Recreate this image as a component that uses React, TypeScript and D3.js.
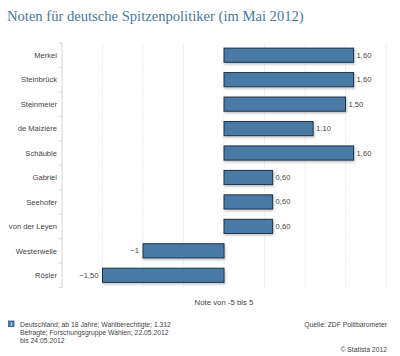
import React from "react";
import * as d3 from "d3";

const categories = ["Merkel", "Steinbrück", "Steinmeier", "de Maizière", "Schäuble", "Gabriel", "Seehofer", "von der Leyen", "Westerwelle", "Rösler"];
const values = [1.6, 1.6, 1.5, 1.1, 1.6, 0.6, 0.6, 0.6, -1, -1.5];
const valueLabels = ["1,60", "1,60", "1,50", "1,10", "1,60", "0,60", "0,60", "0,60", "−1", "−1,50"];
const gridTicks = [-2, -1.5, -1, -0.5, 0, 0.5, 1, 1.5, 2];
const title = "Noten für deutsche Spitzenpolitiker (im Mai 2012)";
const axisTitle = "Note von -5 bis 5";
const noteLines = ["Deutschland; ab 18 Jahre; Wahlberechtigte; 1.312", "Befragte; Forschungsgruppe Wahlen; 22.05.2012", "bis 24.05.2012"];
const source = "Quelle: ZDF Politbarometer";
const copyright = "© Statista 2012";

export default function App() {
  const W = 400, H = 356;
  const left = 62, right = 386, top = 43, bottom = 287.5;
  const x = d3.scaleLinear().domain([-2, 2]).range([left, right]);
  const y = d3.scaleBand<string>().domain(categories).range([top, bottom]).paddingInner(0.42).paddingOuter(0.21);
  const font = "Arial, 'Liberation Sans', sans-serif";
  const bw = y.bandwidth();
  const step = y.step();
  return (
    <svg width={W} height={H} style={{ position: "absolute", left: 0, top: 0, background: "#fff" }} fontFamily={font}>
      <defs>
        <filter id="sh" x="-10%" y="-30%" width="130%" height="180%">
          <feDropShadow dx="1" dy="1.5" stdDeviation="1" floodColor="#000" floodOpacity="0.25" />
        </filter>
      </defs>
      <text x={7} y={21} fontFamily="'Liberation Serif', 'Times New Roman', serif" fontSize={14.6} fill="#4a78a4">{title}</text>
      {gridTicks.slice(1).map((t) => (
        <line key={t} x1={x(t)} x2={x(t)} y1={top} y2={bottom} stroke="#eaeaea" strokeWidth={0.8} strokeDasharray="2,1" />
      ))}
      <line x1={left} x2={left} y1={top} y2={bottom} stroke="#d6d6d6" strokeWidth={1} />
      {d3.range(categories.length + 1).map((i) => (
        <line key={i} x1={left - 3} x2={left} y1={top + i * step} y2={top + i * step} stroke="#d6d6d6" strokeWidth={1} />
      ))}
      {categories.map((c, i) => {
        const v = values[i];
        const x0 = x(Math.min(0, v));
        const x1 = x(Math.max(0, v));
        const yc = (y(c) as number) + bw / 2;
        return (
          <g key={c}>
            <text x={left - 5} y={yc + 2.8} textAnchor="end" fontSize={7.6} fill="#444">{c}</text>
            <rect x={x0} y={y(c)} width={x1 - x0} height={bw} fill="#4a79a5" stroke="#1f3347" strokeWidth={1} filter="url(#sh)" />
            <text x={v >= 0 ? x1 + 3 : x0 - 4} y={yc + 2.5} textAnchor={v >= 0 ? "start" : "end"} fontSize={7.6} fill="#444">{valueLabels[i]}</text>
          </g>
        );
      })}
      <text x={x(0)} y={305} textAnchor="middle" fontSize={7.8} fill="#444">{axisTitle}</text>
      <rect x={8} y={320.5} width={6.5} height={6.5} fill="#3f73a6" />
      <text x={11.25} y={326} textAnchor="middle" fontSize={5.5} fontWeight="bold" fill="#fff">i</text>
      {noteLines.map((l, i) => (
        <text key={i} x={20} y={326.5 + i * 8} fontSize={6.8} fill="#444">{l}</text>
      ))}
      <text x={387} y={326.5} textAnchor="end" fontSize={6.8} fill="#444">{source}</text>
      <text x={387} y={352} textAnchor="end" fontSize={6.8} fill="#444">{copyright}</text>
    </svg>
  );
}
